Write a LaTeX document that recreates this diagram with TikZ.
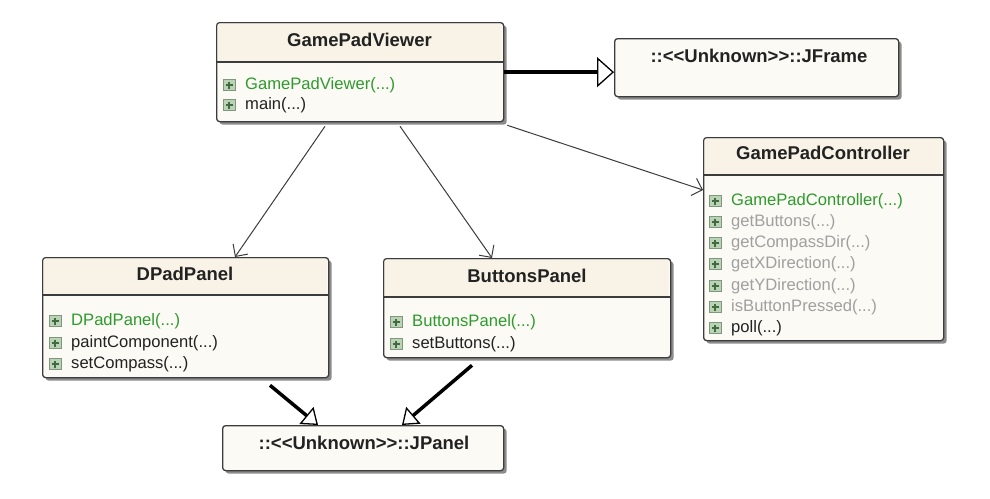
\documentclass[tikz,border=0pt]{standalone}
\usepackage{fontspec}
\setmainfont{Liberation Sans}
\usetikzlibrary{arrows.meta,shadows,calc}

\definecolor{boxfill}{HTML}{FCFAF4}
\definecolor{headfill}{HTML}{F8F3E6}
\definecolor{boxline}{HTML}{3C3C3C}
\definecolor{opgreen}{HTML}{2E9A2E}
\definecolor{opgray}{HTML}{A0A0A0}
\definecolor{optext}{HTML}{222222}
\definecolor{iconfill}{HTML}{BAD3B5}
\definecolor{iconline}{HTML}{809680}
\definecolor{iconplus}{HTML}{416B41}

\tikzset{
  classbox/.style={draw=boxline, line width=1.3pt, fill=boxfill, rounded corners=3pt,
    inner sep=0pt, anchor=north west,
    drop shadow={shadow xshift=3pt, shadow yshift=-3pt, fill=black!45, opacity=1}},
  headband/.style={fill=headfill, rounded corners=2pt},
  title/.style={font=\fontsize{18.5}{21}\selectfont\bfseries, text=optext, inner sep=0pt},
  op/.style={font=\fontsize{16.6}{19}\selectfont, anchor=west, inner sep=0pt},
  sep/.style={draw=boxline, line width=1.3pt},
  assoc/.style={draw=boxline, line width=1pt,
    -{Straight Barb[length=9pt,width=18pt,line width=1pt]}},
  gen/.style={draw=black, line width=3.5pt,
    -{Triangle[open,length=17pt,width=30pt,line width=1.3pt,fill=white]}},
  gensmall/.style={draw=black, line width=3.5pt,
    -{Triangle[open,length=15pt,width=22pt,line width=1.3pt,fill=white]}},
}

% operation row: icon centre x, y, text colour, text, node name
\newcommand\umlop[5]{%
  \draw[iconline, fill=iconfill, line width=0.6pt] (#1-6,#2-5.5) rectangle (#1+6,#2+5.5);
  \draw[iconplus, line width=1.1pt] (#1-3.5,#2) -- (#1+3.5,#2) (#1,#2-3.5) -- (#1,#2+3.5);
  \node[op, text=#3] (#5) at (#1+16,#2) {#4};}

\begin{document}
\begin{tikzpicture}[x=1pt, y=-1pt]
\useasboundingbox (0,0) rectangle (990,498);
\fill[white] (0,0) rectangle (990,498);

% ---------- GamePadViewer ----------
\node[classbox, minimum width=287pt, minimum height=99pt] (viewer) at (216,22) {};
\fill[headband] (217.5,23.5) rectangle (501.5,62);
\draw[sep] (216,62) -- (503,62);
\node[title] (viewerT) at (359.5,40) {GamePadViewer};
\umlop{229}{85}{opgreen}{GamePadViewer(...)}{viewerOp1}
\umlop{229}{105}{optext}{main(...)}{viewerOp2}

% ---------- JFrame ----------
\node[classbox, minimum width=284pt, minimum height=58pt] (jframe) at (614,38) {};
\node[title] (jframeT) at (759,56) {::{<}{<}Unknown{>}{>}::JFrame};

% ---------- GamePadController ----------
\node[classbox, minimum width=240pt, minimum height=203pt] (ctrl) at (703,137) {};
\fill[headband] (704.5,138.5) rectangle (941.5,175);
\draw[sep] (703,175) -- (943,175);
\node[title] (ctrlT) at (823,153) {GamePadController};
\umlop{715}{201}{opgreen}{GamePadController(...)}{ctrlOp1}
\umlop{715}{222}{opgray}{getButtons(...)}{ctrlOp2}
\umlop{715}{243}{opgray}{getCompassDir(...)}{ctrlOp3}
\umlop{715}{264}{opgray}{getXDirection(...)}{ctrlOp4}
\umlop{715}{286}{opgray}{getYDirection(...)}{ctrlOp5}
\umlop{715}{307}{opgray}{isButtonPressed(...)}{ctrlOp6}
\umlop{715}{328}{optext}{poll(...)}{ctrlOp7}

% ---------- DPadPanel ----------
\node[classbox, minimum width=286pt, minimum height=120pt] (dpad) at (42,257) {};
\fill[headband] (43.5,258.5) rectangle (326.5,295);
\draw[sep] (42,295) -- (328,295);
\node[title] (dpadT) at (185,274) {DPadPanel};
\umlop{55}{321}{opgreen}{DPadPanel(...)}{dpadOp1}
\umlop{55}{343}{optext}{paintComponent(...)}{dpadOp2}
\umlop{55}{364}{optext}{setCompass(...)}{dpadOp3}

% ---------- ButtonsPanel ----------
\node[classbox, minimum width=287pt, minimum height=99pt] (buttons) at (383,258) {};
\fill[headband] (384.5,259.5) rectangle (668.5,297);
\draw[sep] (383,297) -- (670,297);
\node[title] (buttonsT) at (527,276) {ButtonsPanel};
\umlop{396}{322}{opgreen}{ButtonsPanel(...)}{buttonsOp1}
\umlop{396}{344}{optext}{setButtons(...)}{buttonsOp2}

% ---------- JPanel ----------
\node[classbox, minimum width=281pt, minimum height=45pt] (jpanel) at (222,425) {};
\node[title] (jpanelT) at (364,443) {::{<}{<}Unknown{>}{>}::JPanel};

% ---------- connectors ----------
\draw[gen] (viewer.east) -- (jframe.west |- viewer.east);
\draw[assoc] ($(viewer.south east)+(3,3)$) -- ($(ctrl.north west)+(0,53)$);
\draw[assoc] ($(viewer.south west)+(109,4)$) -- ($(dpad.north west)+(193,0)$);
\draw[assoc] ($(viewer.south west)+(184,4)$) -- ($(buttons.north west)+(109,0)$);
\draw[gensmall] ($(dpad.south west)+(228,7)$) -- ($(jpanel.north west)+(96,0)$);
\draw[gensmall] ($(buttons.south west)+(89,7)$) -- ($(jpanel.north west)+(180,0)$);
\end{tikzpicture}
\end{document}
